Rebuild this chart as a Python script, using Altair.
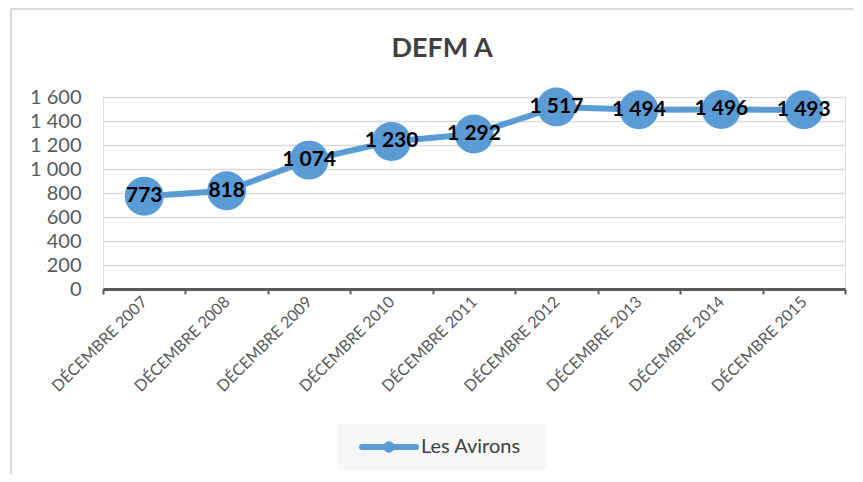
import altair as alt
import pandas as pd

title_text = "DEFM A"
categories = ["DÉCEMBRE 2007", "DÉCEMBRE 2008", "DÉCEMBRE 2009", "DÉCEMBRE 2010",
              "DÉCEMBRE 2011", "DÉCEMBRE 2012", "DÉCEMBRE 2013", "DÉCEMBRE 2014",
              "DÉCEMBRE 2015"]
values = [773, 818, 1074, 1230, 1292, 1517, 1494, 1496, 1493]
series_name = "Les Avirons"
y_ticks = [0, 200, 400, 600, 800, 1000, 1200, 1400, 1600]

df = pd.DataFrame({"cat": categories, "val": values})
legend_df = pd.DataFrame({"serie": [series_name], "title": [title_text]})

BLUE = "#5B9BD5"
FONT = "Lato"
W, H = 742, 192

x_enc = alt.X("cat:N", sort=categories, title=None,
              scale=alt.Scale(type="band", paddingInner=0, paddingOuter=0),
              axis=alt.Axis(labelAngle=-45, labelAlign="right", labelBaseline="middle",
                            labelFont=FONT, labelFontSize=16, labelColor="#595959",
                            labelPadding=5, tickBand="extent", tickSize=5, tickWidth=2,
                            tickColor="#595959", domainColor="#595959", domainWidth=3,
                            grid=False, labelOverlap=False))
y_enc = alt.Y("val:Q", title=None,
              scale=alt.Scale(domain=[0, 1600], nice=False),
              axis=alt.Axis(values=y_ticks, labelFont=FONT, labelFontSize=20,
                            labelColor="#595959", labelPadding=22, domain=False,
                            ticks=False, gridColor="#d9d9d9", gridWidth=1.5,
                            labelExpr="replace(format(datum.value, ',d'), ',', ' ')"))

base = alt.Chart(df)

line = base.mark_line(strokeWidth=6, color=BLUE).encode(x=x_enc, y=y_enc)
points = base.mark_point(filled=True, size=1520, opacity=1, color=BLUE).encode(
    x=x_enc, y=y_enc)
labels = base.transform_calculate(
    lab="replace(format(datum.val, ',d'), ',', ' ')"
).mark_text(font=FONT, fontSize=21, fontWeight="bold", color="black").encode(
    x=x_enc, y=y_enc, text="lab:N")

frame_top = base.mark_rule(color="#d9d9d9", strokeWidth=2).encode(
    x=alt.value(-93), x2=alt.value(W + 8), y=alt.value(-88))
frame_left = base.mark_rule(color="#d9d9d9", strokeWidth=2).encode(
    x=alt.value(-92), y=alt.value(-88), y2=alt.value(H + 185))

lg = alt.Chart(legend_df)
title_mark = lg.mark_text(font=FONT, fontSize=27, fontWeight="bold", color="#404040",
                          align="center", baseline="alphabetic").encode(
    x=alt.value(339), y=alt.value(-40), text="title:N")

# legend (drawn as marks)
leg_box = lg.mark_rect(color="#f7f7f7").encode(
    x=alt.value(234), x2=alt.value(444), y=alt.value(327), y2=alt.value(373))
leg_line = lg.mark_rule(color=BLUE, strokeWidth=6, strokeCap="round").encode(
    x=alt.value(259), x2=alt.value(313), y=alt.value(350))
leg_dot = lg.mark_point(filled=True, size=130, opacity=1, color=BLUE).encode(
    x=alt.value(286), y=alt.value(350))
leg_text = lg.mark_text(font=FONT, fontSize=20, color="#404040", align="left",
                        baseline="middle").encode(
    x=alt.value(318), y=alt.value(350), text="serie:N")

chart = alt.layer(frame_top, frame_left, line, points, labels, title_mark,
                  leg_box, leg_line, leg_dot, leg_text).properties(
    width=W, height=H,
    autosize=alt.AutoSizeParams(type="none"),
    padding={"left": 95, "top": 89, "right": 8, "bottom": 185},
).configure_view(stroke=None).configure(background="white")

chart.save("out.html", embed_options={"renderer": "svg", "actions": False})
